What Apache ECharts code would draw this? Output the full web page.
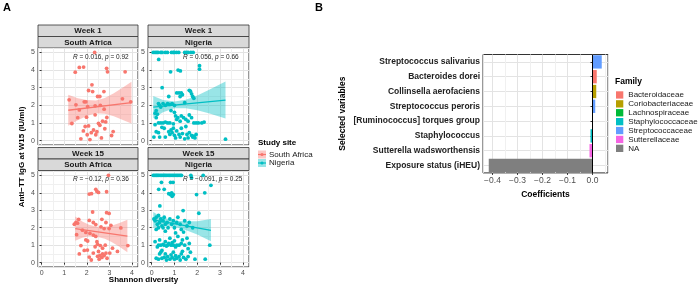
<!DOCTYPE html>
<html>
<head>
<meta charset="utf-8">
<script src="https://cdn.jsdelivr.net/npm/echarts@6/dist/echarts.min.js"></script>
<style>
html, body { margin: 0; padding: 0; background: #fff; }
#chart { width: 700px; height: 286px; }
</style>
</head>
<body>
<div id="chart"></div>
<script>
// ---- panel A : Shannon diversity vs anti-TT IgG ----
const saWeek1 = [[2.35,5.0],[1.49,3.88],[1.67,4.15],[1.86,4.17],[2.88,4.1],[2.92,3.9],[3.7,3.9],[2.23,3.16],[2.08,2.84],[2.26,2.78],
  [2.76,2.78],[2.48,2.5],[2.58,2.5],[1.22,2.31],[1.89,2.2],[1.96,2.2],[3.58,2.37],[3.95,2.2],[1.52,2.03],[2.04,1.93],
  [2.37,1.97],[1.67,1.74],[2.77,1.78],[2.37,1.46],[1.34,0.97],[1.99,1.33],[2.89,1.31],[2.52,0.98],[2.08,0.83],[1.93,0.8],
  [2.84,1.06],[3.17,0.51],[2.8,0.67],[1.74,0.1],[2.02,0.33],[2.14,0.06],[2.4,0.33],[2.58,0.87],[3.1,0.29],[2.3,0.6],
  [1.85,0.55],[2.2,0.45],[2.7,1.1],[1.6,1.3],[2.6,2.0],[2.65,0.15],[2.45,0.5]];
const ngWeek1 = [[0.07,5],[0.15,5],[0.22,5],[0.28,5],[0.4,5],[0.46,5],[0.6,5],[0.69,5],[0.87,5],[0.95,5],[0.99,5],[1.09,5],
  [1.19,5],[1.45,5],[1.53,5],[1.6,5],[1.72,5],[1.82,5],[0.31,4.6],[0.83,3.9],[1.16,4.0],[1.26,3.95],[2.1,4.25],[2.1,4.05],
  [0.46,3.0],[0.75,2.5],[1.1,2.7],[1.2,2.7],[1.3,2.7],[1.35,2.6],[1.65,2.85],[1.7,2.8],[1.75,2.65],[1.8,2.5],[1.85,2.4],
  [1.25,2.5],[1.45,2.15],[0.3,2.1],[0.35,2.0],[0.5,2.1],[0.6,2.0],[0.7,2.1],[0.8,2.05],[0.9,2.1],[1.0,2.0],[0.2,1.7],
  [0.15,1.55],[0.25,1.5],[0.4,1.9],[1.0,1.6],[0.85,1.7],[0.2,1.3],[0.3,1.0],[0.4,1.0],[0.5,1.0],[0.6,1.05],[0.7,1.0],
  [0.8,1.0],[0.95,0.95],[1.1,1.2],[1.15,1.3],[1.25,1.1],[1.3,1.4],[1.4,1.3],[1.5,1.2],[1.6,1.1],[1.65,1.45],[1.75,1.3],
  [1.85,1.0],[1.95,1.0],[2.05,1.0],[2.2,1.0],[2.3,1.05],[1.05,1.4],[0.55,0.7],[0.75,0.5],[0.8,0.35],[0.85,0.6],[0.9,0.45],
  [0.95,0.7],[1.0,0.3],[1.05,0.15],[1.1,0.55],[1.2,0.35],[1.25,0.2],[1.35,0.4],[1.45,0.1],[1.55,0.35],[1.6,0.15],
  [1.65,0.45],[1.75,0.3],[1.8,0.2],[1.85,0.25],[1.9,0.15],[1.95,0.35],[0.1,0.2],[0.2,0.5],[0.3,0.45],[0.35,0.2],[0.6,0.2],
  [1.3,0.7],[1.5,0.8],[3.24,0.08],[0.15,0.9],[0.45,0.75]];
const saWeek15 = [[2.96,5.0],[2.11,3.93],[2.21,3.95],[2.40,4.2],[2.45,4.08],[2.52,4.02],[2.88,4.06],[2.88,2.86],[2.99,2.82],
  [2.26,2.9],[1.64,2.48],[2.67,2.48],[2.85,2.3],[1.52,2.3],[1.59,2.26],[1.45,2.2],[2.11,2.42],[2.29,2.3],[2.4,2.18],
  [2.63,2.05],[2.77,1.95],[3.07,2.14],[2.99,1.95],[3.51,1.99],[1.81,1.86],[1.96,1.73],[2.14,1.68],[2.29,1.58],[2.4,1.5],
  [1.96,1.3],[2.04,1.24],[2.45,1.2],[2.48,1.05],[2.6,0.98],[2.7,0.83],[1.74,0.98],[2.82,1.0],[1.89,0.7],[1.67,0.5],
  [2.11,0.32],[2.29,0.55],[2.52,0.64],[2.7,0.5],[2.77,0.41],[2.85,0.55],[2.48,0.36],[2.58,0.41],[2.67,0.3],[2.03,0.72],
  [2.37,0.91],[3.02,0.55],[3.14,0.83],[3.82,0.98],[3.36,0.64],[1.55,1.6],[2.2,0.15],[2.55,0.2],[2.9,0.25]];
const ngWeek15 = [[0.07,5],[0.12,5],[0.18,5],[0.22,5],[0.27,5],[0.32,5],[0.38,5],[0.44,5],[0.5,5],[0.55,5],[0.6,5],[0.66,5],
  [0.72,5],[0.78,5],[0.84,5],[0.9,5],[0.96,5],[1.02,5],[1.08,5],[1.14,5],[1.2,5],[1.26,5],[1.31,5],[1.72,5],[2.26,5],
  [1.75,4.87],[0.43,4.6],[0.83,4.6],[0.94,4.6],[0.31,4.2],[0.55,4.2],[0.75,3.95],[0.82,3.9],[0.88,4.0],[0.95,3.9],[0.9,3.8],
  [1.97,3.9],[2.33,4.0],[2.6,4.43],[0.36,3.25],[1.38,2.98],[2.07,2.83],[0.1,2.5],[0.15,2.4],[0.2,2.6],[0.25,2.2],[0.3,2.7],
  [0.35,2.3],[0.4,2.5],[0.45,2.1],[0.5,2.4],[0.55,2.6],[0.6,2.2],[0.68,2.3],[0.72,2.0],[0.8,2.5],[0.88,2.2],[0.95,2.4],
  [1.0,2.0],[1.1,2.3],[1.15,2.6],[1.25,2.2],[1.3,1.9],[1.45,2.4],[1.55,2.1],[1.65,2.3],[1.8,2.0],[0.2,1.9],[0.6,1.8],
  [1.05,1.7],[1.4,1.75],[0.3,2.0],[0.5,2.0],[0.15,1.2],[0.25,0.9],[0.3,1.0],[0.35,1.3],[0.4,1.0],[0.45,0.7],[0.5,1.05],
  [0.55,1.0],[0.6,1.2],[0.65,0.95],[0.7,1.0],[0.75,1.1],[0.8,1.4],[0.85,1.0],[0.9,1.15],[0.95,1.0],[1.0,1.25],[1.05,0.9],
  [1.1,1.0],[1.15,1.5],[1.2,1.0],[1.3,1.1],[1.35,1.3],[1.45,1.0],[1.55,1.4],[1.6,0.8],[1.65,1.1],[1.7,0.6],[2.55,1.0],
  [0.2,0.25],[0.3,0.2],[0.35,0.5],[0.45,0.25],[0.55,0.3],[0.6,0.5],[0.65,0.15],[0.7,0.35],[0.8,0.2],[0.85,0.45],[0.9,0.3],
  [1.0,0.2],[1.05,0.4],[1.1,0.25],[1.2,0.35],[1.25,0.15],[1.3,0.5],[1.4,0.3],[1.5,0.2],[1.6,0.35],[1.9,0.2],[2.35,0.2],
  [0.4,0.6],[0.95,0.6],[1.35,0.65]];

// fitted lines (start, end) and confidence bands
const fitSaWeek1 = [[1.18,1.72],[3.98,2.15]];
const bandSaWeek1X = [1.18,1.6,2.0,2.4,2.8,3.2,3.6,3.98];
const bandSaWeek1Lo = [0.84,1.16,1.40,1.55,1.52,1.38,1.17,0.97];
const bandSaWeek1Hi = [2.60,2.40,2.30,2.27,2.42,2.68,3.01,3.33];
const fitNgWeek1 = [[0.07,1.9],[3.24,2.3]];
const bandNgWeek1X = [0.07,0.5,1.0,1.5,2.0,2.5,3.24];
const bandNgWeek1Lo = [1.27,1.60,1.83,1.84,1.72,1.55,1.25];
const bandNgWeek1Hi = [2.53,2.30,2.21,2.32,2.56,2.87,3.35];
const fitSaWeek15 = [[1.49,1.95],[3.8,1.52]];
const bandSaWeek15X = [1.49,1.8,2.1,2.45,2.8,3.1,3.45,3.8];
const bandSaWeek15Lo = [1.25,1.42,1.51,1.49,1.37,1.18,0.91,0.59];
const bandSaWeek15Hi = [2.65,2.36,2.17,2.05,2.05,2.12,2.27,2.45];
const fitNgWeek15 = [[0.07,2.45],[2.6,1.85]];
const bandNgWeek15X = [0.07,0.4,0.8,1.2,1.6,2.0,2.6];
const bandNgWeek15Lo = [2.00,2.09,2.09,1.98,1.81,1.61,1.22];
const bandNgWeek15Hi = [2.90,2.65,2.47,2.38,2.37,2.37,2.50];

const weeks = ['Week 1', 'Week 1', 'Week 15', 'Week 15'];
const sites = ['South Africa', 'Nigeria', 'South Africa', 'Nigeria'];
const corLabels = [['0.016','0.92'], ['0.056','0.66'], ['−0.12','0.36'], ['−0.091','0.25']];

// ---- panel B : coefficients ----
const variables = ['Streptococcus salivarius', 'Bacteroides dorei', 'Collinsella aerofaciens', 'Streptococcus peroris',
  '[Ruminococcus] torques group', 'Staphylococcus', 'Sutterella wadsworthensis', 'Exposure status (iHEU)'];
const coefs = [0.037, 0.017, 0.015, 0.011, 0.002, -0.008, -0.012, -0.415];
const varFamily = ['Streptococcaceae', 'Bacteroidaceae', 'Coriobacteriaceae', 'Streptococcaceae',
  'Lachnospiraceae', 'Staphylococcaceae', 'Sutterellaceae', 'NA'];
const families = ['Bacteroidaceae', 'Coriobacteriaceae', 'Lachnospiraceae', 'Staphylococcaceae', 'Streptococcaceae', 'Sutterellaceae', 'NA'];
const familyColors = ['#F8766D', '#B79F00', '#00BA38', '#00BFC4', '#619CFF', '#F564E3', '#7F7F7F'];

const siteColors = {'South Africa': '#F8766D', 'Nigeria': '#00BFC4'};
const siteFills = {'South Africa': 'rgba(248,118,109,0.4)', 'Nigeria': 'rgba(0,191,196,0.4)'};

const points = [saWeek1, ngWeek1, saWeek15, ngWeek15];
const fits = [fitSaWeek1, fitNgWeek1, fitSaWeek15, fitNgWeek15];
const bands = [
  [bandSaWeek1X, bandSaWeek1Lo, bandSaWeek1Hi],
  [bandNgWeek1X, bandNgWeek1Lo, bandNgWeek1Hi],
  [bandSaWeek15X, bandSaWeek15Lo, bandSaWeek15Hi],
  [bandNgWeek15X, bandNgWeek15Lo, bandNgWeek15Hi]
];

const FONT = 'Liberation Sans, Arial, sans-serif';
const panels = [
  {left: 38, top: 48, width: 100, height: 97, strip: 25},
  {left: 148, top: 48, width: 101, height: 97, strip: 25},
  {left: 38, top: 171, width: 100, height: 96, strip: 147.5},
  {left: 148, top: 171, width: 101, height: 96, strip: 147.5}
];

const chart = echarts.init(document.getElementById('chart'));

const grids = [], xAxes = [], yAxes = [], series = [], graphics = [];
const gridLine = {show: true, lineStyle: {color: '#E3E3E3', width: 1}};
const minorLine = {show: true, lineStyle: {color: '#F0F0F0', width: 1}};

panels.forEach(function (p, i) {
  grids.push({left: p.left, top: p.top, width: p.width, height: p.height,
    show: true, borderColor: '#333', borderWidth: 1, backgroundColor: '#fff'});
  const bottomRow = i >= 2;
  xAxes.push({
    type: 'value', gridIndex: i, min: -0.16, max: 4.27, splitNumber: 4,
    axisLine: {show: false},
    axisTick: {show: bottomRow, length: 2, lineStyle: {color: '#333'}},
    axisLabel: {show: bottomRow, fontSize: 7, color: '#4D4D4D', margin: 3, fontFamily: FONT,
      showMinLabel: false, showMaxLabel: false},
    splitLine: gridLine, minorTick: {show: false, splitNumber: 2}, minorSplitLine: minorLine
  });
  yAxes.push({
    type: 'value', gridIndex: i, min: -0.25, max: 5.25, splitNumber: 5,
    axisLine: {show: false},
    axisTick: {show: true, length: 2, lineStyle: {color: '#333'}},
    axisLabel: {fontSize: 7, color: '#4D4D4D', margin: 3, fontFamily: FONT,
      showMinLabel: false, showMaxLabel: false},
    splitLine: gridLine, minorTick: {show: false, splitNumber: 2}, minorSplitLine: minorLine
  });

  const site = sites[i];
  const b = bands[i];
  series.push({
    type: 'scatter', xAxisIndex: i, yAxisIndex: i, z: 2, silent: true,
    data: points[i], symbolSize: 3.8, itemStyle: {color: siteColors[site], opacity: 1}
  });
  series.push({
    type: 'custom', xAxisIndex: i, yAxisIndex: i, z: 3, silent: true,
    data: b[0].map(function (x, k) { return [x, b[1][k], b[2][k]]; }),
    encode: {x: 0, y: [1, 2]},
    renderItem: function (params, api) {
      if (params.dataIndex !== 0) return null;
      const upper = b[0].map(function (x, k) { return api.coord([x, b[2][k]]); });
      const lower = b[0].map(function (x, k) { return api.coord([x, b[1][k]]); }).reverse();
      return {type: 'polygon', shape: {points: upper.concat(lower)}, style: {fill: siteFills[site]}};
    }
  });
  series.push({
    type: 'line', xAxisIndex: i, yAxisIndex: i, z: 4, silent: true, symbol: 'none',
    data: fits[i], lineStyle: {color: siteColors[site], width: 1.3}
  });

  // facet strips
  [weeks[i], site].forEach(function (txt, r) {
    const y = p.strip + r * 11.5;
    graphics.push({type: 'rect', shape: {x: p.left, y: y, width: p.width, height: 11.5},
      style: {fill: '#D9D9D9', stroke: '#333', lineWidth: 0.8}});
    graphics.push({type: 'text', x: p.left + p.width / 2, y: y + 6,
      style: {text: txt, font: 'bold 8px ' + FONT, fill: '#1A1A1A', textAlign: 'center', textVerticalAlign: 'middle'}});
  });
  // correlation label
  graphics.push({type: 'text', x: p.left + 35, y: p.top + (bottomRow ? 8 : 9), z: 10,
    style: {
      text: '{i|R} = ' + corLabels[i][0] + ', {i|p} = ' + corLabels[i][1],
      font: '6.5px ' + FONT, fill: '#222', textVerticalAlign: 'middle',
      rich: {i: {fontStyle: 'italic', fontSize: 6.5, fontFamily: FONT, fill: '#222'}}
    }});
});

// panel A titles and legend
graphics.push({type: 'text', x: 7, y: 8, style: {text: 'A', font: 'bold 11px ' + FONT, fill: '#000', textAlign: 'center', textVerticalAlign: 'middle'}});
graphics.push({type: 'text', x: 319, y: 8, style: {text: 'B', font: 'bold 11px ' + FONT, fill: '#000', textAlign: 'center', textVerticalAlign: 'middle'}});
graphics.push({type: 'text', x: 143.5, y: 280, style: {text: 'Shannon diversity', font: 'bold 8px ' + FONT, fill: '#000', textAlign: 'center', textVerticalAlign: 'middle'}});
graphics.push({type: 'text', x: 22, y: 157, rotation: Math.PI / 2,
  style: {text: 'Anti−TT IgG at W15 (IU/ml)', font: 'bold 8px ' + FONT, fill: '#000', textAlign: 'center', textVerticalAlign: 'middle'}});
graphics.push({type: 'text', x: 258, y: 143, style: {text: 'Study site', font: 'bold 8px ' + FONT, fill: '#000', textVerticalAlign: 'middle'}});
['South Africa', 'Nigeria'].forEach(function (s, k) {
  const y = 150.5 + k * 8.5;
  graphics.push({type: 'rect', shape: {x: 258, y: y, width: 8, height: 8}, style: {fill: siteFills[s]}});
  graphics.push({type: 'line', shape: {x1: 258, y1: y + 4, x2: 266, y2: y + 4}, style: {stroke: siteColors[s], lineWidth: 1.2}});
  graphics.push({type: 'circle', shape: {cx: 262, cy: y + 4, r: 1.6}, style: {fill: siteColors[s]}});
  graphics.push({type: 'text', x: 269, y: y + 4, style: {text: s, font: '8px ' + FONT, fill: '#1A1A1A', textVerticalAlign: 'middle'}});
});
graphics.push({type: 'text', x: 615, y: 82, style: {text: 'Family', font: 'bold 8.5px ' + FONT, fill: '#000', textVerticalAlign: 'middle'}});

// panel B grid and axes
grids.push({left: 483, top: 54.5, width: 125, height: 118.4, show: true, borderColor: '#333', borderWidth: 1, backgroundColor: '#fff'});
xAxes.push({
  type: 'value', gridIndex: 4, min: -0.438, max: 0.062, splitNumber: 5,
  name: 'Coefficients', nameLocation: 'middle', nameGap: 17,
  nameTextStyle: {fontWeight: 'bold', fontSize: 8.5, color: '#000', fontFamily: FONT},
  axisLine: {show: false},
  axisTick: {show: true, length: 2, lineStyle: {color: '#333'}},
  axisLabel: {fontSize: 8.5, color: '#4D4D4D', margin: 3, fontFamily: FONT, showMinLabel: false, showMaxLabel: false,
    formatter: function (v) { return v.toFixed(1).replace('-', '−'); }},
  splitLine: gridLine, minorTick: {show: false, splitNumber: 2}, minorSplitLine: minorLine
});
yAxes.push({
  type: 'category', gridIndex: 4, data: variables, inverse: true,
  name: 'Selected variables', nameLocation: 'middle', nameGap: 136, nameRotate: 90,
  nameTextStyle: {fontWeight: 'bold', fontSize: 8.5, color: '#000', fontFamily: FONT},
  axisLine: {show: false},
  axisTick: {show: true, length: 2, alignWithLabel: true, lineStyle: {color: '#333'}},
  axisLabel: {fontSize: 8.5, fontWeight: 'bold', color: '#222', margin: 3, fontFamily: FONT},
  splitLine: {show: true, alignWithLabel: true, lineStyle: {color: '#E3E3E3', width: 1}}
});

families.forEach(function (fam, f) {
  const s = {
    type: 'bar', name: fam, xAxisIndex: 4, yAxisIndex: 4, z: 3,
    barWidth: '90%', barGap: '-100%',
    itemStyle: {color: familyColors[f]},
    data: variables.map(function (v, k) { return varFamily[k] === fam ? coefs[k] : '-'; })
  };
  if (f === 0) {
    s.markLine = {silent: true, symbol: 'none', label: {show: false},
      lineStyle: {color: '#000', type: 'solid', width: 1}, data: [{xAxis: 0}]};
  }
  series.push(s);
});

chart.setOption({
  animation: false,
  backgroundColor: '#fff',
  grid: grids,
  xAxis: xAxes,
  yAxis: yAxes,
  legend: {
    data: families, orient: 'vertical', left: 616, top: 90.5, padding: 0,
    itemWidth: 7.3, itemHeight: 7.3, itemGap: 0, icon: 'rect', selectedMode: false,
    textStyle: {fontSize: 8, color: '#1A1A1A', fontFamily: FONT, lineHeight: 8.9}
  },
  graphic: graphics,
  series: series
});
window.addEventListener('resize', function () { chart.resize(); });
</script>
</body>
</html>
